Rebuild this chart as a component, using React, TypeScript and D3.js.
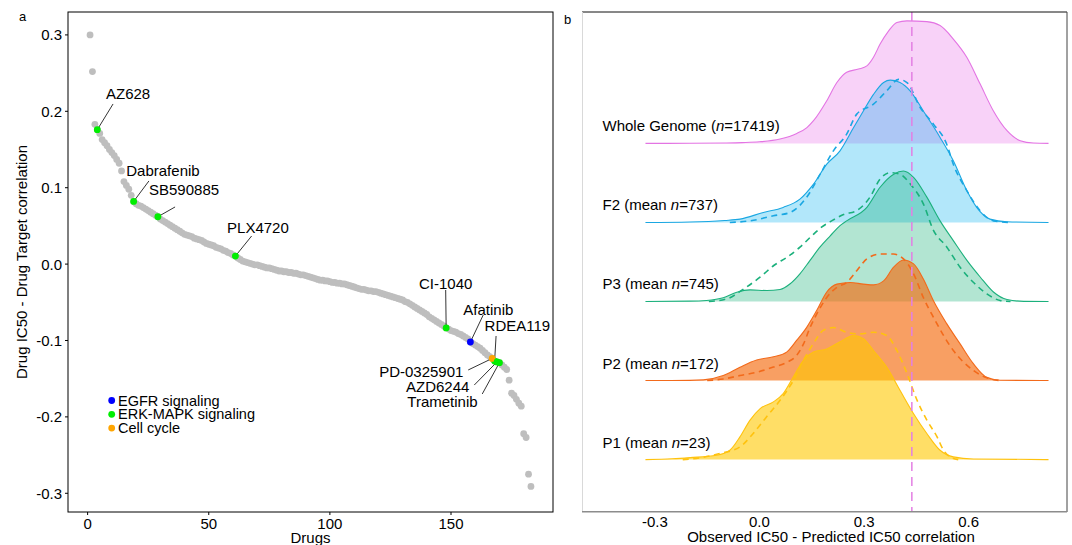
import * as d3 from "d3";
import React from "react";

// panel a: correlation per drug, sorted (drug 1..183)
const drugCorr = [
  0.3, 0.252, 0.183, 0.176, 0.171, 0.163, 0.159, 0.155, 0.15, 0.146,
  0.142, 0.137, 0.132, 0.122, 0.108, 0.103, 0.098, 0.09, 0.082, 0.079,
  0.077, 0.076, 0.074, 0.072, 0.07, 0.068, 0.066, 0.064, 0.062, 0.059,
  0.057, 0.055, 0.053, 0.051, 0.049, 0.047, 0.045, 0.043, 0.041, 0.039,
  0.038, 0.037, 0.036, 0.034, 0.033, 0.032, 0.031, 0.029, 0.027, 0.026,
  0.025, 0.024, 0.022, 0.021, 0.02, 0.018, 0.017, 0.015, 0.014, 0.012,
  0.0105, 0.008, 0.006, 0.004, 0.003, 0.002, 0.001, 0.0, -0.001, -0.001,
  -0.002, -0.003, -0.004, -0.005, -0.005, -0.006, -0.007, -0.008, -0.009, -0.009,
  -0.01, -0.01, -0.011, -0.011, -0.012, -0.012, -0.013, -0.014, -0.014, -0.015,
  -0.016, -0.017, -0.018, -0.019, -0.02, -0.021, -0.021, -0.022, -0.022, -0.023,
  -0.024, -0.024, -0.025, -0.025, -0.026, -0.026, -0.027, -0.028, -0.029, -0.03,
  -0.031, -0.032, -0.033, -0.033, -0.034, -0.035, -0.035, -0.036, -0.036, -0.037,
  -0.038, -0.039, -0.04, -0.041, -0.042, -0.043, -0.044, -0.045, -0.046, -0.047,
  -0.049, -0.05, -0.052, -0.054, -0.056, -0.058, -0.06, -0.062, -0.064, -0.066,
  -0.069, -0.071, -0.073, -0.075, -0.077, -0.079, -0.081, -0.0835, -0.085, -0.087,
  -0.088, -0.089, -0.091, -0.092, -0.094, -0.096, -0.098, -0.102, -0.104, -0.106,
  -0.108, -0.11, -0.113, -0.116, -0.119, -0.121, -0.1235, -0.127, -0.128, -0.129,
  -0.132, -0.135, -0.138, -0.152, -0.169, -0.172, -0.177, -0.182, -0.186, -0.222,
  -0.227, -0.275, -0.291,
];

const groupNames = ["EGFR signaling", "ERK-MAPK signaling", "Cell cycle"];
const groupColors = ["#0000ff", "#00ee00", "#ffa500"];

// highlighted drugs: index, group, label position (data units) and leader start
const hlNames = ["AZ628", "Dabrafenib", "SB590885", "PLX4720", "CI-1040", "Afatinib", "RDEA119", "PD-0325901", "AZD6244", "Trametinib"];
const hlIndex = [4, 19, 29, 61, 148, 158, 168, 167, 169, 170];
const hlGroup = [1, 1, 1, 1, 1, 0, 1, 2, 1, 1];
const hlLabelX = [16.7, 31.1, 39.8, 70.3, 147.8, 165.4, 177.4, 155.1, 157.6, 161.0];
const hlLabelY = [0.2227, 0.123, 0.097, 0.0473, -0.0251, -0.0592, -0.081, -0.1409, -0.1605, -0.1801];
const hlAnchor = ["middle", "middle", "middle", "middle", "middle", "middle", "middle", "end", "end", "end"];
const hlSegX = [10.5, 25.3, 36.1, 67.7, 147.8, 163.3, 168.6, 157.1, 159.6, 162.9];
const hlSegY = [0.2096, 0.1088, 0.0748, 0.0368, -0.0339, -0.0666, -0.0941, -0.1386, -0.1583, -0.17];

const xTicksA = [0, 50, 100, 150];
const yTicksA = [-0.3, -0.2, -0.1, 0.0, 0.1, 0.2, 0.3];

// panel b: density ridges [x, height]
const wgSolid = [
  [-0.327, 0], [-0.2, 0.001], [-0.1, 0.005], [-0.05, 0.01], [0, 0.02], [0.059, 0.055], [0.107, 0.126],
  [0.136, 0.2], [0.155, 0.287], [0.193, 0.54], [0.222, 0.77], [0.25, 0.9], [0.284, 0.94], [0.308, 0.98],
  [0.327, 1.09], [0.346, 1.256], [0.37, 1.42], [0.394, 1.53], [0.423, 1.55], [0.48, 1.54], [0.518, 1.49],
  [0.556, 1.32], [0.595, 1.087], [0.633, 0.75], [0.671, 0.41], [0.71, 0.16], [0.748, 0.034], [0.786, 0.004], [0.829, 0],
];
const f2Solid = [
  [-0.327, 0], [-0.2, 0.006], [-0.1, 0.025], [-0.056, 0.042], [0.011, 0.126], [0.068, 0.19], [0.116, 0.295],
  [0.155, 0.485], [0.193, 0.737], [0.231, 0.906], [0.27, 1.2], [0.298, 1.41], [0.327, 1.62], [0.356, 1.77],
  [0.375, 1.8], [0.403, 1.77], [0.432, 1.665], [0.47, 1.41], [0.518, 1.075], [0.556, 0.78], [0.595, 0.4],
  [0.623, 0.19], [0.661, 0.042], [0.71, 0.008], [0.829, 0],
];
const f2Dashed = [
  [-0.085, 0], [-0.027, 0.02], [0.04, 0.084], [0.088, 0.126], [0.135, 0.316], [0.174, 0.61], [0.212, 0.906],
  [0.25, 1.117], [0.279, 1.37], [0.327, 1.496], [0.365, 1.665], [0.399, 1.81], [0.423, 1.77], [0.461, 1.454],
  [0.499, 1.243], [0.537, 0.99], [0.556, 0.735], [0.595, 0.4], [0.633, 0.147], [0.671, 0.02], [0.719, 0],
];
const p3Solid = [
  [-0.327, 0], [-0.2, 0.004], [-0.152, 0.013], [-0.104, 0.047], [-0.065, 0.118], [-0.027, 0.147], [0.021, 0.139],
  [0.059, 0.152], [0.088, 0.224], [0.116, 0.35], [0.145, 0.52], [0.174, 0.69], [0.203, 0.83], [0.231, 0.96],
  [0.25, 1.02], [0.308, 1.19], [0.346, 1.445], [0.385, 1.61], [0.413, 1.65], [0.442, 1.57], [0.48, 1.32],
  [0.518, 1.02], [0.556, 0.77], [0.595, 0.52], [0.633, 0.31], [0.671, 0.12], [0.71, 0.025], [0.758, 0.002], [0.829, 0],
];
const p3Dashed = [
  [-0.145, 0], [-0.093, 0.034], [-0.045, 0.16], [0.0025, 0.31], [0.041, 0.455], [0.079, 0.56], [0.117, 0.69],
  [0.15, 0.83], [0.178, 0.94], [0.207, 1.02], [0.241, 1.1], [0.279, 1.15], [0.317, 1.32], [0.346, 1.55],
  [0.375, 1.63], [0.403, 1.61], [0.432, 1.49], [0.47, 1.235], [0.499, 0.9], [0.537, 0.69], [0.576, 0.43],
  [0.614, 0.24], [0.652, 0.097], [0.69, 0.013], [0.72, 0],
];
const p2Solid = [
  [-0.327, 0], [-0.2, 0.002], [-0.161, 0.008], [-0.104, 0.063], [-0.056, 0.169], [-0.008, 0.26], [0.04, 0.3],
  [0.078, 0.36], [0.107, 0.51], [0.135, 0.67], [0.164, 0.885], [0.193, 1.12], [0.222, 1.22], [0.26, 1.24],
  [0.298, 1.22], [0.327, 1.21], [0.356, 1.26], [0.384, 1.43], [0.413, 1.525], [0.442, 1.475], [0.47, 1.285],
  [0.499, 1.01], [0.537, 0.72], [0.576, 0.46], [0.614, 0.21], [0.652, 0.04], [0.69, 0.003], [0.829, 0],
];
const p2Dashed = [
  [-0.15, 0], [-0.104, 0.02], [-0.056, 0.063], [-0.008, 0.105], [0.04, 0.17], [0.078, 0.23], [0.107, 0.32],
  [0.126, 0.46], [0.145, 0.67], [0.164, 0.84], [0.193, 1.05], [0.222, 1.18], [0.25, 1.24], [0.279, 1.39],
  [0.308, 1.54], [0.346, 1.6], [0.384, 1.6], [0.413, 1.54], [0.442, 1.35], [0.47, 1.05], [0.499, 0.8],
  [0.556, 0.38], [0.614, 0.126], [0.652, 0.034], [0.69, 0],
];
const p1Solid = [
  [-0.327, 0], [-0.25, 0.01], [-0.199, 0.025], [-0.123, 0.055], [-0.085, 0.118], [-0.056, 0.287], [-0.027, 0.5],
  [0.002, 0.645], [0.04, 0.73], [0.068, 0.834], [0.097, 1.045], [0.126, 1.256], [0.155, 1.36], [0.193, 1.4],
  [0.231, 1.49], [0.27, 1.57], [0.298, 1.53], [0.327, 1.38], [0.365, 1.17], [0.403, 0.877], [0.442, 0.58],
  [0.48, 0.33], [0.518, 0.118], [0.556, 0.034], [0.614, 0.008], [0.829, 0],
];
const p1Dashed = [
  [-0.22, 0], [-0.16, 0.03], [-0.114, 0.076], [-0.056, 0.16], [-0.018, 0.33], [0.02, 0.54], [0.059, 0.75],
  [0.097, 1.0], [0.126, 1.256], [0.155, 1.47], [0.183, 1.635], [0.212, 1.67], [0.25, 1.61], [0.289, 1.59],
  [0.327, 1.61], [0.365, 1.57], [0.394, 1.38], [0.423, 1.09], [0.452, 0.75], [0.48, 0.5], [0.509, 0.29],
  [0.528, 0.118], [0.547, 0.034], [0.57, 0],
];

const ridgePrefix = ["Whole Genome (", "F2 (mean ", "P3 (mean ", "P2 (mean ", "P1 (mean "];
const ridgeN = ["17419", "737", "745", "172", "23"];
const ridgeSolid = [wgSolid, f2Solid, p3Solid, p2Solid, p1Solid];
const ridgeDashed = [null, f2Dashed, p3Dashed, p2Dashed, p1Dashed];
const ridgeLine = ["#e374e3", "#1aa7e2", "#1bb07c", "#f26a1b", "#ffc20e"];
const ridgeFill = ["#e86ae8", "#00aeef", "#00a86b", "#f46b0f", "#ffc800"];
const ridgeAlpha = [0.3, 0.3, 0.3, 0.65, 0.6];
const wgMarker = 0.437;
const xTicksB = [-0.3, 0.0, 0.3, 0.6];

const font = "'Liberation Sans', Arial, Helvetica, sans-serif";
// ggplot style labels: plain hyphen as minus
const fmt = (v: number) => d3.format(".1f")(v).replace("\u2212", "-");

function PanelA() {
  const x = d3.scaleLinear().domain([-8.1, 192.1]).range([68, 553]);
  const y = d3.scaleLinear().domain([-0.3245, 0.33]).range([512, 12]);
  return (
    <g fontFamily={font} fontSize={15} fill="#000">
      <text x={19} y={21} fontSize={13}>a</text>
      {drugCorr.map((v, i) => (
        <circle key={i} cx={x(i + 1)} cy={y(v)} r={3.4} fill="#bebebe" />
      ))}
      {hlNames.map((n, k) => (
        <line key={"s" + k} x1={x(hlSegX[k])} y1={y(hlSegY[k])} x2={x(hlIndex[k])} y2={y(drugCorr[hlIndex[k] - 1])} stroke="#000" strokeWidth={0.8} />
      ))}
      {hlNames.map((n, k) => (
        <circle key={"c" + k} cx={x(hlIndex[k])} cy={y(drugCorr[hlIndex[k] - 1])} r={3.4} fill={groupColors[hlGroup[k]]} />
      ))}
      {hlNames.map((n, k) => (
        <text key={"t" + k} x={x(hlLabelX[k])} y={y(hlLabelY[k])} textAnchor={hlAnchor[k]} dominantBaseline="central">{n}</text>
      ))}
      {groupNames.map((g, k) => (
        <g key={g}>
          <circle cx={111.7} cy={400.5 + k * 13.8} r={3.4} fill={groupColors[k]} />
          <text x={118} y={400.5 + k * 13.8} fontSize={14.5} dominantBaseline="central">{g}</text>
        </g>
      ))}
      <rect x={68} y={12} width={485} height={500} fill="none" stroke="#000" strokeWidth={1} />
      {yTicksA.map((t) => (
        <g key={t}>
          <line x1={65} x2={68} y1={y(t)} y2={y(t)} stroke="#000" />
          <text x={62} y={y(t)} textAnchor="end" dominantBaseline="central">{fmt(t)}</text>
        </g>
      ))}
      {xTicksA.map((t) => (
        <g key={t}>
          <line x1={x(t)} x2={x(t)} y1={512} y2={515} stroke="#000" />
          <text x={x(t)} y={529} textAnchor="middle">{t}</text>
        </g>
      ))}
      <text x={310.5} y={543} textAnchor="middle">Drugs</text>
      <text transform={`translate(27,262) rotate(-90)`} textAnchor="middle">Drug IC50 - Drug Target correlation</text>
    </g>
  );
}

function PanelB() {
  const x = d3.scaleLinear().domain([-0.509, 0.882]).range([582, 1067]);
  const y = d3.scaleLinear().domain([-0.663, 5.662]).range([512, 12]);
  return (
    <g fontFamily={font} fontSize={15} fill="#000">
      <text x={564} y={24} fontSize={13}>b</text>
      {ridgeSolid.map((solid, k) => {
        const base = 4 - k;
        const area = d3.area<number[]>().x((d) => x(d[0])).y0(y(base)).y1((d) => y(base + d[1])).curve(d3.curveMonotoneX);
        const line = d3.line<number[]>().x((d) => x(d[0])).y((d) => y(base + d[1])).curve(d3.curveMonotoneX);
        const dashed = ridgeDashed[k];
        return (
          <g key={k}>
            <path d={area(solid) || ""} fill={ridgeFill[k]} fillOpacity={ridgeAlpha[k]} />
            <path d={line(solid) || ""} fill="none" stroke={ridgeLine[k]} strokeWidth={1.1} />
            {dashed && <path d={line(dashed) || ""} fill="none" stroke={ridgeLine[k]} strokeWidth={1.6} strokeDasharray="6,4.5" />}
          </g>
        );
      })}
      {ridgeSolid.map((s, k) => (
        <text key={"l" + k} x={602.5} y={y(4 - k) - 12}>
          <tspan>{ridgePrefix[k]}</tspan>
          <tspan fontStyle="italic">n</tspan>
          <tspan>{"=" + ridgeN[k] + ")"}</tspan>
        </text>
      ))}
      <line x1={x(wgMarker)} x2={x(wgMarker)} y1={12} y2={511} stroke="#e37fe3" strokeWidth={1.5} strokeDasharray="9,6" />
      <line x1={582} x2={1067} y1={12} y2={12} stroke="#111" strokeWidth={1} />
      <line x1={1067} x2={1067} y1={12} y2={512} stroke="#444" strokeWidth={1} />
      <line x1={582.5} x2={582.5} y1={12} y2={512} stroke="#d9d9d9" strokeWidth={1} />
      <line x1={582} x2={1067} y1={511.8} y2={511.8} stroke="#8c8c8c" strokeWidth={1.6} />
      {xTicksB.map((t) => (
        <text key={t} x={x(t)} y={527} textAnchor="middle">{fmt(t)}</text>
      ))}
      <text x={831} y={542} textAnchor="middle">Observed IC50 - Predicted IC50 correlation</text>
    </g>
  );
}

export default function App() {
  return (
    <svg width={1072} height={545} style={{ position: "absolute", left: 0, top: 0, background: "#fff" }}>
      <rect width={1072} height={545} fill="#fff" />
      <PanelA />
      <PanelB />
    </svg>
  );
}
